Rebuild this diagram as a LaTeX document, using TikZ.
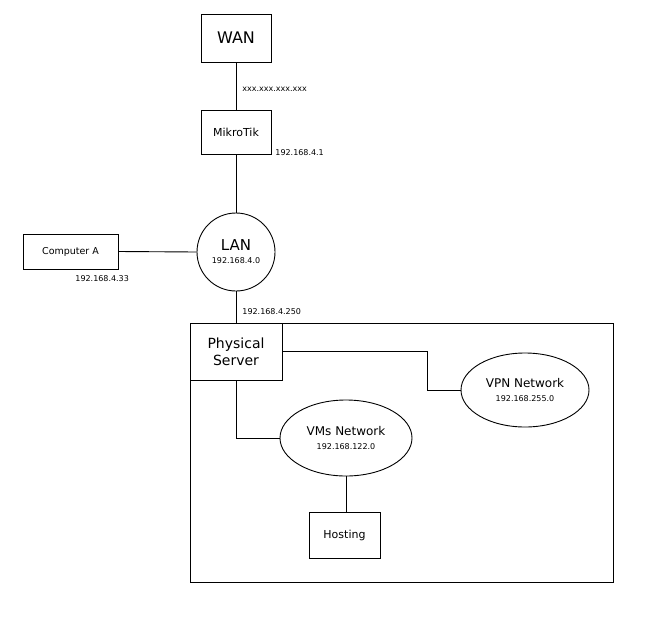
\documentclass[tikz,border=0pt]{standalone}
\usepackage{fontspec}
\setmainfont{DejaVu Sans}
\usetikzlibrary{shapes.geometric}
\begin{document}
\begin{tikzpicture}[x=1pt,y=-1pt,line width=0.9pt,
 box/.style={draw,rectangle,inner sep=0pt},
 lbl/.style={font=\fontsize{8}{9}\selectfont,anchor=west,inner sep=0pt}]
\useasboundingbox (0,0) rectangle (650,624);
\draw (190,323) rectangle (613,582);
\node[box,minimum width=70,minimum height=48,font=\fontsize{16}{18}\selectfont] (wan) at (236,38) {WAN};
\node[box,minimum width=70,minimum height=44,font=\fontsize{11}{13}\selectfont] (mk) at (236,132) {MikroTik};
\node[draw,circle,minimum size=78,inner sep=0pt,align=center] (lan) at (236,252) {{\fontsize{15}{17}\selectfont LAN}\\[1pt]{\fontsize{8}{9}\selectfont 192.168.4.0}};
\node[box,minimum width=95,minimum height=35,font=\fontsize{9.5}{11}\selectfont] (ca) at (70.5,251.5) {Computer A};
\node[box,fill=white,minimum width=92,minimum height=57,align=center,font=\fontsize{14}{17}\selectfont] (ps) at (236,351.5) {Physical\\Server};
\node[draw,ellipse,minimum width=128,minimum height=74,inner sep=0pt,align=center] (vpn) at (525,390) {{\fontsize{12}{14}\selectfont VPN Network}\\[2pt]{\fontsize{8}{9}\selectfont 192.168.255.0}};
\node[draw,ellipse,minimum width=132,minimum height=76,inner sep=0pt,align=center] (vms) at (346,438) {{\fontsize{12}{14}\selectfont VMs Network}\\[2pt]{\fontsize{8}{9}\selectfont 192.168.122.0}};
\node[box,minimum width=71,minimum height=46,font=\fontsize{11}{13}\selectfont] (host) at (344.5,535) {Hosting};
\draw (wan) -- (mk);
\draw (mk) -- (lan);
\draw (ca.east) -- (lan.west);
\draw (lan) -- (ps);
\draw (ps.east |- 0,351) -- (427,351) |- (vpn.west);
\draw (ps.south) |- (vms.west);
\draw (vms.south) -- (vms.south |- host.north);
\node[lbl] at (242,89) {xxx.xxx.xxx.xxx};
\node[lbl] at (275,153) {192.168.4.1};
\node[lbl] at (75,279) {192.168.4.33};
\node[lbl] at (242,312) {192.168.4.250};
\end{tikzpicture}
\end{document}
